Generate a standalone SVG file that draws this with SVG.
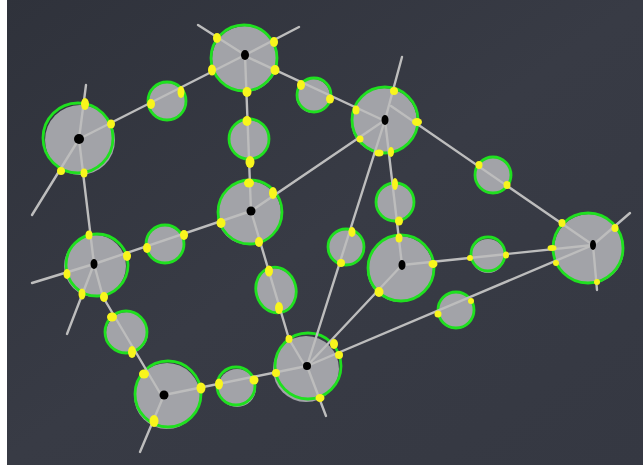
<svg xmlns="http://www.w3.org/2000/svg" width="643" height="465" viewBox="0 0 643 465">
<defs>
<linearGradient id="bg" x1="0" y1="0" x2="1" y2="1">
<stop offset="0" stop-color="#2f323b"/>
<stop offset="0.5" stop-color="#383b45"/>
<stop offset="1" stop-color="#353842"/>
</linearGradient>
<style>
.fill{fill:#a2a3a8;stroke:none}
.ring{fill:none;stroke:#1fe01f;stroke-width:2.8}
.ln{stroke:#bdbdbd;stroke-width:2.4;fill:none;stroke-linecap:round;stroke-linejoin:round}
.mk{fill:#f8f51c}
.dot{fill:#000}
</style>
</defs>
<rect x="0" y="0" width="643" height="465" fill="url(#bg)"/>
<rect x="0" y="0" width="7" height="465" fill="#ffffff"/>

<g id="nodes">
<g id="A"><circle class="fill" cx="80" cy="140" r="35"/><circle class="ring" cx="78" cy="138" r="35"/></g>
<g id="B"><circle class="fill" cx="245" cy="59" r="33"/><circle class="ring" cx="244" cy="58" r="33"/></g>
<g id="C"><circle class="fill" cx="384" cy="121" r="33"/><circle class="ring" cx="385" cy="120" r="33"/></g>
<g id="D"><circle class="fill" cx="249" cy="213" r="32"/><circle class="ring" cx="250" cy="212" r="32"/></g>
<g id="E"><circle class="fill" cx="95" cy="266" r="31"/><circle class="ring" cx="97" cy="265" r="31"/></g>
<g id="F"><circle class="fill" cx="400" cy="269" r="33"/><circle class="ring" cx="401" cy="268" r="33"/></g>
<g id="G"><circle class="fill" cx="589" cy="249" r="35"/><circle class="ring" cx="588" cy="248" r="35"/></g>
<g id="H"><circle class="fill" cx="306" cy="369" r="33"/><circle class="ring" cx="308" cy="366" r="33"/></g>
<g id="I"><circle class="fill" cx="167" cy="396" r="33"/><circle class="ring" cx="168" cy="394" r="33"/></g>
<g id="s1"><circle class="fill" cx="167" cy="102" r="19"/><circle class="ring" cx="167" cy="101" r="19"/></g>
<g id="s2"><circle class="fill" cx="313" cy="96" r="17"/><circle class="ring" cx="314" cy="95" r="17"/></g>
<g id="s3"><circle class="fill" cx="249" cy="140" r="20"/><circle class="ring" cx="249" cy="139" r="20"/></g>
<g id="s4"><circle class="fill" cx="395" cy="203" r="19"/><circle class="ring" cx="395" cy="202" r="19"/></g>
<g id="s5"><circle class="fill" cx="493" cy="176" r="18"/><circle class="ring" cx="493" cy="175" r="18"/></g>
<g id="s6"><circle class="fill" cx="165" cy="245" r="19"/><circle class="ring" cx="165" cy="244" r="19"/></g>
<g id="s7"><circle class="fill" cx="346" cy="248" r="18"/><circle class="ring" cx="346" cy="247" r="18"/></g>
<g id="s8"><circle class="fill" cx="488" cy="256" r="17"/><circle class="ring" cx="488" cy="254" r="17"/></g>
<g id="s9"><ellipse class="fill" cx="276" cy="291" rx="20" ry="23" transform="rotate(-15 276 291)"/><ellipse class="ring" cx="276" cy="290" rx="20" ry="23" transform="rotate(-15 276 290)"/></g>
<g id="s10"><circle class="fill" cx="127" cy="333" r="21"/><circle class="ring" cx="126" cy="332" r="21"/></g>
<g id="s11"><circle class="fill" cx="456" cy="311" r="18"/><circle class="ring" cx="456" cy="310" r="18"/></g>
<g id="s12"><circle class="fill" cx="237" cy="388" r="19"/><circle class="ring" cx="236" cy="386" r="19"/></g>
</g>

<g id="connectors" class="ln">
<line x1="79" y1="139" x2="86" y2="85"/>
<line x1="79" y1="139" x2="32" y2="215"/>
<line x1="79" y1="139" x2="245" y2="55"/>
<line x1="79" y1="139" x2="94" y2="264"/>
<line x1="245" y1="55" x2="198" y2="25"/>
<line x1="245" y1="55" x2="299" y2="27"/>
<line x1="245" y1="56" x2="385" y2="121"/>
<line x1="245" y1="55" x2="251" y2="211"/>
<line x1="385" y1="120" x2="402" y2="57"/>
<line x1="385" y1="120" x2="251" y2="211"/>
<line x1="385" y1="120" x2="402" y2="265"/>
<line x1="385" y1="120" x2="307" y2="366"/>
<line x1="391" y1="106" x2="593" y2="245"/>
<line x1="251" y1="211" x2="94" y2="264"/>
<polyline points="251,211 289,339 305,366"/>
<line x1="94" y1="264" x2="32" y2="283"/>
<line x1="94" y1="264" x2="67" y2="334"/>
<polyline points="94,264 103,297 160,393"/>
<line x1="402" y1="265" x2="593" y2="245"/>
<line x1="402" y1="265" x2="307" y2="366"/>
<line x1="593" y1="245" x2="630" y2="213"/>
<line x1="593" y1="245" x2="597" y2="290"/>
<line x1="593" y1="245" x2="307" y2="366"/>
<line x1="307" y1="366" x2="326" y2="416"/>
<line x1="164" y1="395" x2="307" y2="366"/>
<line x1="164" y1="395" x2="140" y2="452"/>
</g>

<g id="marks" class="mk">
<ellipse cx="217" cy="38" rx="4" ry="5"/>
<ellipse cx="274" cy="42" rx="4" ry="5"/>
<ellipse cx="212" cy="70" rx="4" ry="5.5"/>
<ellipse cx="275" cy="70" rx="4.5" ry="5"/>
<ellipse cx="247" cy="92" rx="4.5" ry="5"/>
<ellipse cx="301" cy="85" rx="4" ry="5"/>
<ellipse cx="330" cy="99" rx="4" ry="4.5"/>
<ellipse cx="151" cy="104" rx="4" ry="5"/>
<ellipse cx="181" cy="92" rx="3.5" ry="6"/>
<ellipse cx="111" cy="124" rx="4" ry="4.5"/>
<ellipse cx="85" cy="104" rx="4" ry="6"/>
<ellipse cx="61" cy="171" rx="4" ry="4"/>
<ellipse cx="84" cy="173" rx="3.5" ry="4.5"/>
<ellipse cx="247" cy="121" rx="4.5" ry="5"/>
<ellipse cx="250" cy="162" rx="4.5" ry="6"/>
<ellipse cx="249" cy="183" rx="5" ry="4.5"/>
<ellipse cx="273" cy="193" rx="4" ry="6"/>
<ellipse cx="221" cy="223" rx="4.5" ry="5"/>
<ellipse cx="259" cy="242" rx="4" ry="5"/>
<ellipse cx="356" cy="110" rx="3.5" ry="4.5"/>
<ellipse cx="394" cy="91" rx="4" ry="4"/>
<ellipse cx="417" cy="122" rx="5" ry="4"/>
<ellipse cx="360" cy="139" rx="3.5" ry="3.5"/>
<ellipse cx="379" cy="153" rx="4.5" ry="3.5"/>
<ellipse cx="391" cy="152" rx="3" ry="5"/>
<ellipse cx="395" cy="184" rx="3" ry="6"/>
<ellipse cx="399" cy="221" rx="4" ry="4.5"/>
<ellipse cx="479" cy="165" rx="3.5" ry="4"/>
<ellipse cx="507" cy="185" rx="3.5" ry="4"/>
<ellipse cx="562" cy="223" rx="3.5" ry="4"/>
<ellipse cx="615" cy="228" rx="3.5" ry="4"/>
<ellipse cx="552" cy="248" rx="4.5" ry="3"/>
<ellipse cx="556" cy="263" rx="3" ry="3"/>
<ellipse cx="597" cy="282" rx="3" ry="3"/>
<ellipse cx="352" cy="232" rx="3.5" ry="5"/>
<ellipse cx="341" cy="263" rx="4" ry="4"/>
<ellipse cx="89" cy="235" rx="3.5" ry="4.5"/>
<ellipse cx="127" cy="256" rx="4" ry="5"/>
<ellipse cx="67" cy="274" rx="3.5" ry="5"/>
<ellipse cx="82" cy="294" rx="3.5" ry="5.5"/>
<ellipse cx="104" cy="297" rx="4" ry="5"/>
<ellipse cx="147" cy="248" rx="4" ry="5"/>
<ellipse cx="184" cy="235" rx="4" ry="5"/>
<ellipse cx="112" cy="317" rx="5" ry="4.5"/>
<ellipse cx="132" cy="352" rx="4" ry="6"/>
<ellipse cx="144" cy="374" rx="5" ry="4.5"/>
<ellipse cx="201" cy="388" rx="4.5" ry="5.5"/>
<ellipse cx="154" cy="421" rx="4.5" ry="6"/>
<ellipse cx="219" cy="384" rx="4" ry="5.5"/>
<ellipse cx="254" cy="380" rx="4.5" ry="4.5"/>
<ellipse cx="276" cy="373" rx="4" ry="4"/>
<ellipse cx="289" cy="339" rx="3.5" ry="4"/>
<ellipse cx="334" cy="344" rx="4" ry="5"/>
<ellipse cx="339" cy="355" rx="4" ry="4"/>
<ellipse cx="320" cy="398" rx="4.5" ry="4"/>
<ellipse cx="269" cy="271" rx="4" ry="5.5"/>
<ellipse cx="279" cy="308" rx="4" ry="6"/>
<ellipse cx="399" cy="238" rx="3.5" ry="4.5"/>
<ellipse cx="433" cy="264" rx="4.5" ry="4"/>
<ellipse cx="379" cy="292" rx="4.5" ry="5"/>
<ellipse cx="470" cy="258" rx="3" ry="3"/>
<ellipse cx="506" cy="255" rx="3" ry="3.5"/>
<ellipse cx="438" cy="314" rx="3.5" ry="3.5"/>
<ellipse cx="471" cy="301" rx="3" ry="3"/>
</g>

<g id="centers" class="dot">
<ellipse cx="79" cy="139" rx="5" ry="5"/>
<ellipse cx="245" cy="55" rx="4" ry="5"/>
<ellipse cx="385" cy="120" rx="3.5" ry="5"/>
<ellipse cx="251" cy="211" rx="4.5" ry="4.5"/>
<ellipse cx="94" cy="264" rx="3.5" ry="5"/>
<ellipse cx="402" cy="265" rx="3.5" ry="5"/>
<ellipse cx="593" cy="245" rx="3" ry="5"/>
<ellipse cx="307" cy="366" rx="4" ry="4"/>
<ellipse cx="164" cy="395" rx="4.5" ry="4.5"/>
</g>
</svg>
